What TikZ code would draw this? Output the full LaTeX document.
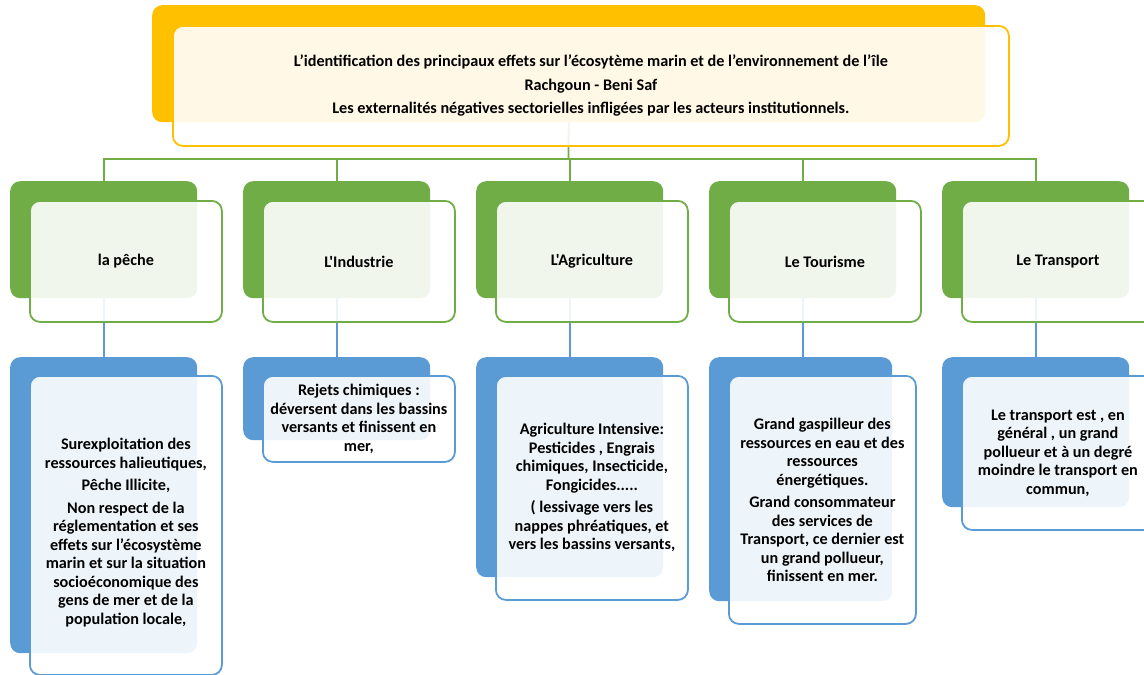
\documentclass[tikz,border=0pt]{standalone}
\usepackage{fontspec}
\newfontfamily\calib{Carlito}
\usetikzlibrary{positioning}

\definecolor{titlegold}{HTML}{FFC000}
\definecolor{sectorgreen}{HTML}{70AD47}
\definecolor{effectblue}{HTML}{5B9BD5}

\begin{document}
\begin{tikzpicture}[
  x=1pt, y=-1pt,
  font=\calib\bfseries\fontsize{16.2}{18.5}\selectfont,
  backbox/.style={fill=#1, draw=none, rounded corners=10pt, inner sep=0pt, anchor=north west},
  frontbox/.style={draw=#1, line width=1.8pt, fill=white, fill opacity=0.9, text opacity=1,
    rounded corners=10pt, inner sep=0pt, align=center, anchor=north west},
  link/.style={draw=#1, line width=1.8pt}
]
\useasboundingbox (0,0) rectangle (1144,675);

% Back boxes
\node[backbox=titlegold, minimum width=833pt, minimum height=117pt] (titleback) at (152,5) {};

\node[backbox=sectorgreen, minimum width=187pt, minimum height=117pt] (pecheback) at (10,181) {};
\node[backbox=sectorgreen, minimum width=187pt, minimum height=117pt] (industrieback) at (243,181) {};
\node[backbox=sectorgreen, minimum width=187pt, minimum height=117pt] (agricultureback) at (476,181) {};
\node[backbox=sectorgreen, minimum width=187pt, minimum height=117pt] (tourismeback) at (709,181) {};
\node[backbox=sectorgreen, minimum width=187pt, minimum height=117pt] (transportback) at (942,181) {};

\node[backbox=effectblue, minimum width=187pt, minimum height=296pt] (pecheeffback) at (10,357) {};
\node[backbox=effectblue, minimum width=187pt, minimum height=83pt] (industrieeffback) at (243,357) {};
\node[backbox=effectblue, minimum width=187pt, minimum height=220pt] (agricultureeffback) at (476,357) {};
\node[backbox=effectblue, minimum width=183pt, minimum height=244pt] (tourismeeffback) at (709,357) {};
\node[backbox=effectblue, minimum width=187pt, minimum height=150pt] (transporteffback) at (942,357) {};

% Connectors
\coordinate (bus) at (568.5,159);
\draw[link=sectorgreen] (titleback.south) -- (bus);
\draw[link=sectorgreen] (bus) -| (pecheback.north);
\draw[link=sectorgreen] (bus) -| (industrieback.north);
\draw[link=sectorgreen] (bus) -| (agricultureback.north);
\draw[link=sectorgreen] (bus) -| (tourismeback.north);
\draw[link=sectorgreen] (bus) -| (transportback.north);

\draw[link=effectblue] (pecheback.south) -- (pecheback.south |- pecheeffback.north);
\draw[link=effectblue] (industrieback.south) -- (industrieback.south |- industrieeffback.north);
\draw[link=effectblue] (agricultureback.south) -- (agricultureback.south |- agricultureeffback.north);
\draw[link=effectblue] (tourismeback.south) -- (tourismeback.south |- tourismeeffback.north);
\draw[link=effectblue] (transportback.south) -- (transportback.south |- transporteffback.north);

% Front boxes
\node[frontbox=titlegold, minimum width=836pt, minimum height=120pt]
  (title) at ([shift={(20pt,-20pt)}]titleback.north west)
  {L’identification des principaux effets sur l’écosytème marin et de l’environnement de l’île\\[5pt]
   Rachgoun - Beni Saf\\[5pt]
   Les externalités négatives sectorielles infligées par les acteurs institutionnels.};

\node[frontbox=sectorgreen, minimum width=192pt, minimum height=121pt]
  (peche) at ([shift={(19pt,-19pt)}]pecheback.north west) {la pêche};
\node[frontbox=sectorgreen, minimum width=192pt, minimum height=121pt]
  (industrie) at ([shift={(19pt,-19pt)}]industrieback.north west) {L'Industrie};
\node[frontbox=sectorgreen, minimum width=192pt, minimum height=121pt]
  (agriculture) at ([shift={(19pt,-19pt)}]agricultureback.north west) {L'Agriculture};
\node[frontbox=sectorgreen, minimum width=192pt, minimum height=121pt]
  (tourisme) at ([shift={(19pt,-19pt)}]tourismeback.north west) {Le Tourisme};
\node[frontbox=sectorgreen, minimum width=192pt, minimum height=121pt]
  (transport) at ([shift={(19pt,-19pt)}]transportback.north west) {Le Transport};

\node[frontbox=effectblue, minimum width=192pt, minimum height=299pt]
  (pecheeff) at ([shift={(19pt,-18pt)}]pecheeffback.north west)
  {\mbox{}\\[7.5pt]
   Surexploitation des\\ ressources halieutiques,\\[4pt]
   Pêche Illicite,\\[4pt]
   Non respect de la\\ réglementation et ses\\ effets sur l’écosystème\\
   marin et sur la situation\\ socioéconomique des\\ gens de mer et de la\\
   population locale,};
\node[frontbox=effectblue, minimum width=192pt, minimum height=86pt]
  (industrieeff) at ([shift={(19pt,-18pt)}]industrieeffback.north west)
  {Rejets chimiques :\\ déversent dans les bassins\\ versants et finissent en\\ mer,};
\node[frontbox=effectblue, minimum width=192pt, minimum height=224pt]
  (agricultureeff) at ([shift={(19pt,-18pt)}]agricultureeffback.north west)
  {Agriculture Intensive:\\ Pesticides , Engrais\\ chimiques, Insecticide,\\ Fongicides.....\\[4pt]
   ( lessivage vers les\\ nappes phréatiques, et\\ vers les bassins versants,};
\node[frontbox=effectblue, minimum width=187pt, minimum height=248pt]
  (tourismeeff) at ([shift={(19pt,-18pt)}]tourismeeffback.north west)
  {Grand gaspilleur des\\ ressources en eau et des\\ ressources\\ énergétiques.\\[4pt]
   Grand consommateur\\ des services de\\ Transport, ce dernier est\\ un grand pollueur,\\
   finissent en mer.};
\node[frontbox=effectblue, minimum width=192pt, minimum height=154pt]
  (transporteff) at ([shift={(19pt,-18pt)}]transporteffback.north west)
  {Le transport est , en\\ général , un grand\\ pollueur et à un degré\\ moindre le transport en\\ commun,};

\end{tikzpicture}
\end{document}
